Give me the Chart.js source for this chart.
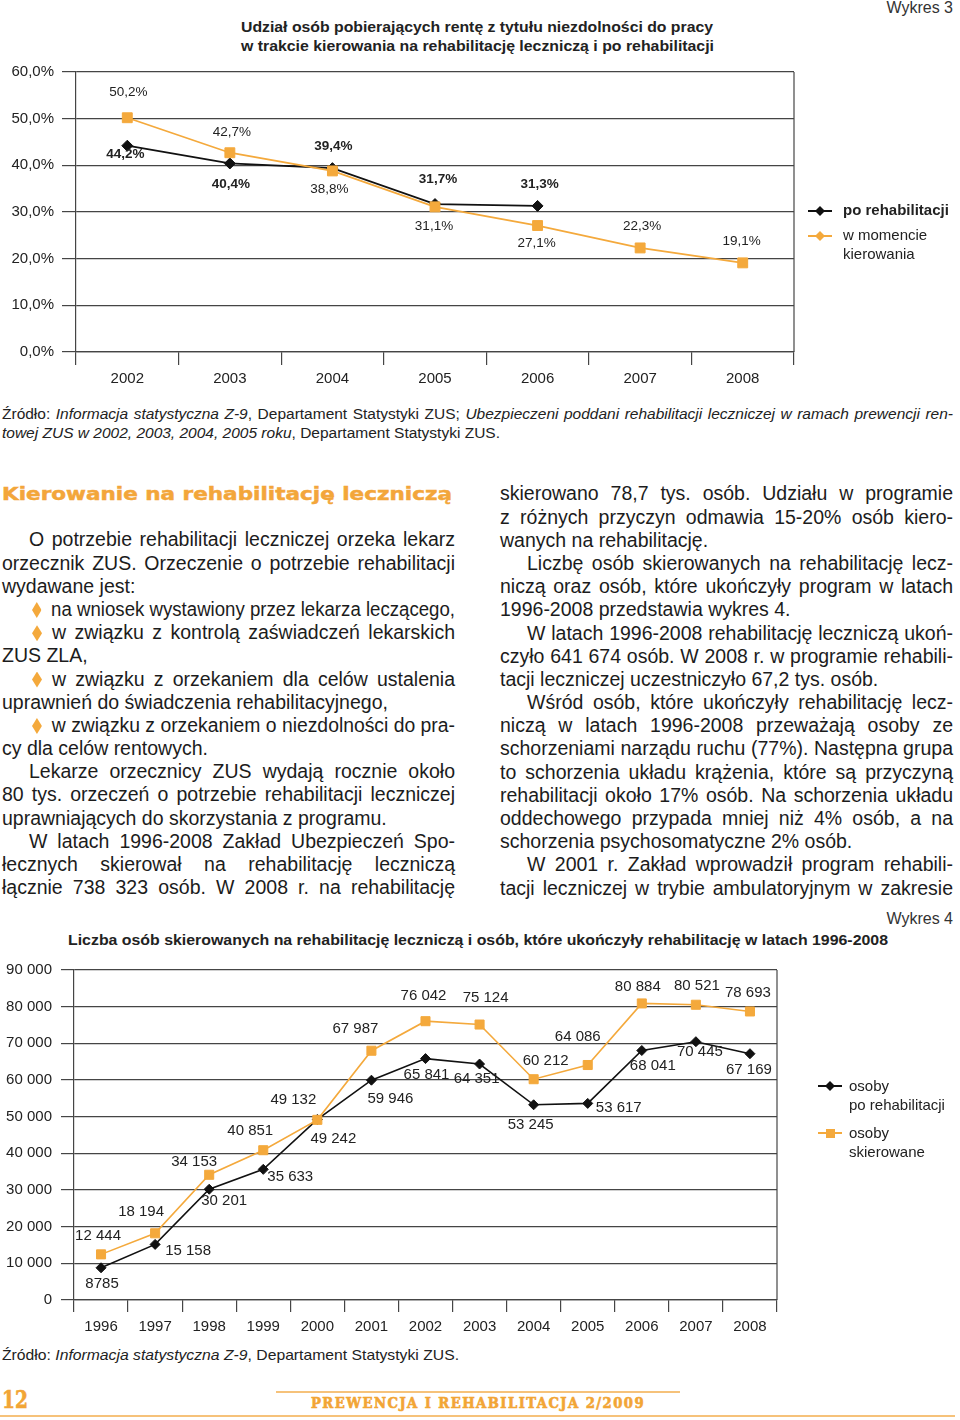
<!DOCTYPE html>
<html lang="pl">
<head>
<meta charset="utf-8">
<title>Wykres 3 i 4</title>
<script src="https://cdn.jsdelivr.net/npm/chart.js@4.4.1/dist/chart.umd.min.js"></script>
<style>
html, body { margin: 0; padding: 0; background: #fff; }
body { width: 960px; height: 1420px; position: relative; overflow: hidden;
  font-family: "Liberation Sans", Arial, sans-serif; color: #1c1c1c; }
.abs { position: absolute; white-space: nowrap; }
.fit { display: inline-block; transform-origin: 0 50%; }
.wyk { font-family: "Liberation Sans Narrow", "Liberation Sans", sans-serif; font-size: 16px; line-height: 18px; color: #333; }
.ttl { font-weight: bold; font-size: 15px; line-height: 19px; color: #222; }
.src { font-size: 15.5px; line-height: 19px; color: #222; }
.col { position: absolute; width: 453px; font-size: 19.5px; line-height: 23.2px; }
.ln { white-space: nowrap; height: 23.2px; }
.ln.jj { text-align: justify; text-align-last: justify; }
.ln.ind { padding-left: 27px; }
.ln.bul { padding-left: 30px; }
.b { display: inline-block; width: 10px; height: 16px; background: #f4a93c; margin-right: 10px;
  clip-path: polygon(50% 0, 100% 50%, 50% 100%, 0 50%); vertical-align: -2px; }
.head { font-family: "DejaVu Sans", sans-serif; font-weight: bold; font-size: 18px; color: #f3a63a;
  -webkit-text-stroke: 0.5px #f3a63a; }
canvas { position: absolute; left: 0; }
.leg { position: absolute; font-size: 15px; line-height: 18.5px; color: #222; }
.lline { position: absolute; height: 2px; width: 24px; }
.dia { position: absolute; width: 10px; height: 10px; clip-path: polygon(50% 0, 100% 50%, 50% 100%, 0 50%); }
.sq { position: absolute; width: 9px; height: 9px; }
.foot { font-family: "DejaVu Serif", serif; font-weight: bold; color: #f2a535; -webkit-text-stroke: 0.6px #f2a535; }
.oline { position: absolute; height: 1.5px; background: #f6c27a; }
</style>
</head>
<body>

<div class="abs wyk" style="right:7px; top:-1px;">Wykres 3</div>
<div class="abs ttl" style="left:241px; top:17px;"><span class="fit" data-w="472">Udział osób pobierających rentę z tytułu niezdolności do pracy</span></div>
<div class="abs ttl" style="left:241px; top:36px;"><span class="fit" data-w="473">w trakcie kierowania na rehabilitację leczniczą i po rehabilitacji</span></div>

<canvas id="c3" width="960" height="345" style="top:55px;"></canvas>

<div class="lline" style="left:808px; top:210px; background:#111;"></div>
<div class="dia" style="left:815px; top:206px; background:#111;"></div>
<div class="leg" style="left:843px; top:201px; font-weight:bold;">po rehabilitacji</div>
<div class="lline" style="left:808px; top:235px; background:#f4a93c;"></div>
<div class="dia" style="left:815px; top:231px; background:#f4a93c;"></div>
<div class="leg" style="left:843px; top:226px;">w momencie<br>kierowania</div>

<div class="abs src" style="left:2px; top:403.5px; width:951px;">
  <div class="ln jj" style="height:19px;"><span class="t">Źródło: <i>Informacja statystyczna Z-9</i>, Departament Statystyki ZUS; <i>Ubezpieczeni poddani rehabilitacji leczniczej w ramach prewencji ren-</i></span></div>
  <div class="ln" style="height:19px;"><span class="t"><i>towej ZUS w 2002, 2003, 2004, 2005 roku</i>, Departament Statystyki ZUS.</span></div>
</div>

<div class="abs head" style="left:2px; top:483px; line-height:22px;"><span class="fit" data-w="450">Kierowanie na rehabilitację leczniczą</span></div>

<div class="col" style="left:2px; top:528.4px;">
  <div class="ln jj ind"><span class="t">O potrzebie rehabilitacji leczniczej orzeka lekarz</span></div>
  <div class="ln jj"><span class="t">orzecznik ZUS. Orzeczenie o potrzebie rehabilitacji</span></div>
  <div class="ln"><span class="t">wydawane jest:</span></div>
  <div class="ln jj bul"><span class="t"><span class="b"></span>na wniosek wystawiony przez lekarza leczącego,</span></div>
  <div class="ln jj bul"><span class="t"><span class="b"></span>w związku z kontrolą zaświadczeń lekarskich</span></div>
  <div class="ln"><span class="t">ZUS ZLA,</span></div>
  <div class="ln jj bul"><span class="t"><span class="b"></span>w związku z orzekaniem dla celów ustalenia</span></div>
  <div class="ln"><span class="t">uprawnień do świadczenia rehabilitacyjnego,</span></div>
  <div class="ln jj bul"><span class="t"><span class="b"></span>w związku z orzekaniem o niezdolności do pra-</span></div>
  <div class="ln"><span class="t">cy dla celów rentowych.</span></div>
  <div class="ln jj ind"><span class="t">Lekarze orzecznicy ZUS wydają rocznie około</span></div>
  <div class="ln jj"><span class="t">80 tys. orzeczeń o potrzebie rehabilitacji leczniczej</span></div>
  <div class="ln"><span class="t">uprawniających do skorzystania z programu.</span></div>
  <div class="ln jj ind"><span class="t">W latach 1996-2008 Zakład Ubezpieczeń Spo-</span></div>
  <div class="ln jj"><span class="t">łecznych skierował na rehabilitację leczniczą</span></div>
  <div class="ln jj"><span class="t">łącznie 738 323 osób. W 2008 r. na rehabilitację</span></div>
</div>

<div class="col" style="left:500px; top:482.4px;">
  <div class="ln jj"><span class="t">skierowano 78,7 tys. osób. Udziału w programie</span></div>
  <div class="ln jj"><span class="t">z różnych przyczyn odmawia 15-20% osób kiero-</span></div>
  <div class="ln"><span class="t">wanych na rehabilitację.</span></div>
  <div class="ln jj ind"><span class="t">Liczbę osób skierowanych na rehabilitację lecz-</span></div>
  <div class="ln jj"><span class="t">niczą oraz osób, które ukończyły program w latach</span></div>
  <div class="ln"><span class="t">1996-2008 przedstawia wykres 4.</span></div>
  <div class="ln jj ind"><span class="t">W latach 1996-2008 rehabilitację leczniczą ukoń-</span></div>
  <div class="ln jj"><span class="t">czyło 641 674 osób. W 2008 r. w programie rehabili-</span></div>
  <div class="ln"><span class="t">tacji leczniczej uczestniczyło 67,2 tys. osób.</span></div>
  <div class="ln jj ind"><span class="t">Wśród osób, które ukończyły rehabilitację lecz-</span></div>
  <div class="ln jj"><span class="t">niczą w latach 1996-2008 przeważają osoby ze</span></div>
  <div class="ln jj"><span class="t">schorzeniami narządu ruchu (77%). Następna grupa</span></div>
  <div class="ln jj"><span class="t">to schorzenia układu krążenia, które są przyczyną</span></div>
  <div class="ln jj"><span class="t">rehabilitacji około 17% osób. Na schorzenia układu</span></div>
  <div class="ln jj"><span class="t">oddechowego przypada mniej niż 4% osób, a na</span></div>
  <div class="ln"><span class="t">schorzenia psychosomatyczne 2% osób.</span></div>
  <div class="ln jj ind"><span class="t">W 2001 r. Zakład wprowadził program rehabili-</span></div>
  <div class="ln jj"><span class="t">tacji leczniczej w trybie ambulatoryjnym w zakresie</span></div>
</div>

<div class="abs wyk" style="right:7px; top:910px;">Wykres 4</div>
<div class="abs ttl" style="left:68px; top:929.5px;"><span class="fit" data-w="820">Liczba osób skierowanych na rehabilitację leczniczą i osób, które ukończyły rehabilitację w latach 1996-2008</span></div>

<canvas id="c4" width="960" height="393" style="top:952px;"></canvas>

<div class="lline" style="left:818px; top:1085px; background:#111;"></div>
<div class="dia" style="left:825px; top:1081px; background:#111;"></div>
<div class="leg" style="left:849px; top:1077px;">osoby<br>po rehabilitacji</div>
<div class="lline" style="left:818px; top:1132px; background:#f4a93c;"></div>
<div class="sq" style="left:825.5px; top:1128.5px; background:#f4a93c;"></div>
<div class="leg" style="left:849px; top:1124px;">osoby<br>skierowane</div>

<div class="abs src" style="left:2px; top:1344.5px; font-size:15px;"><span class="fit" data-w="457">Źródło: <i>Informacja statystyczna Z-9</i>, Departament Statystyki ZUS.</span></div>

<div class="oline" style="left:276px; top:1391px; width:404px;"></div>
<div class="oline" style="left:0; top:1415px; width:955px;"></div>
<div class="abs foot" style="left:2px; top:1386px; font-size:24px; line-height:28px;"><span class="fit" data-w="26">12</span></div>
<div class="abs foot" style="left:311px; top:1395px; font-size:14px; line-height:16px; letter-spacing:1.5px;"><span class="fit" data-w="334">PREWENCJA I REHABILITACJA 2/2009</span></div>

<script>
// WYKRES 3 - udział osób pobierających rentę (%)
const years3 = ['2002', '2003', '2004', '2005', '2006', '2007', '2008'];
const poRehab3 = [44.2, 40.4, 39.4, 31.7, 31.3, null, null];
const wMomencie3 = [50.2, 42.7, 38.8, 31.1, 27.1, 22.3, 19.1];
const ticks3 = [0, 10, 20, 30, 40, 50, 60];

// WYKRES 4 - liczba osób, 1996-2008
const years4 = ['1996', '1997', '1998', '1999', '2000', '2001', '2002', '2003', '2004', '2005', '2006', '2007', '2008'];
const poRehab4 = [8785, 15158, 30201, 35633, 49242, 59946, 65841, 64351, 53245, 53617, 68041, 70445, 67169];
const skierowane4 = [12444, 18194, 34153, 40851, 49132, 67987, 76042, 75124, 60212, 64086, 80884, 80521, 78693];
const ticks4 = [0, 10000, 20000, 30000, 40000, 50000, 60000, 70000, 80000, 90000];

const ORANGE = '#f4a93c';
const BLACK = '#111';
const GRID = '#454545';

Chart.defaults.font.family = "'Liberation Sans', Arial, sans-serif";
Chart.defaults.color = '#222';

const pct = v => v.toFixed(1).replace('.', ',') + '%';
const num = v => v >= 10000 ? String(v).replace(/\B(?=(\d{3})+(?!\d))/g, ' ') : String(v);

// right edge of the plot frame
const frame = {
  id: 'frame',
  afterDraw(chart) {
    const { ctx, chartArea: a } = chart;
    ctx.save();
    ctx.strokeStyle = GRID;
    ctx.lineWidth = 1.2;
    ctx.beginPath();
    ctx.moveTo(a.right, a.top);
    ctx.lineTo(a.right, a.bottom);
    ctx.stroke();
    ctx.restore();
  }
};

// value labels next to each point, offsets kept per dataset
const valueLabels = {
  id: 'valueLabels',
  afterDatasetsDraw(chart, args, opts) {
    const ctx = chart.ctx;
    ctx.save();
    ctx.textAlign = 'center';
    ctx.textBaseline = 'middle';
    ctx.fillStyle = '#222';
    chart.data.datasets.forEach((ds, i) => {
      const meta = chart.getDatasetMeta(i);
      ctx.font = (ds.labelBold ? 'bold ' : '') + opts.size + "px 'Liberation Sans', Arial, sans-serif";
      meta.data.forEach((pt, j) => {
        const v = ds.data[j];
        if (v === null || v === undefined) return;
        const off = ds.labelOffsets[j] || [0, 0];
        ctx.fillText(opts.format(v), pt.x + off[0], pt.y + off[1]);
      });
    });
    ctx.restore();
  }
};

new Chart(document.getElementById('c3'), {
  type: 'line',
  data: {
    labels: years3,
    datasets: [
      {
        label: 'po rehabilitacji', data: poRehab3, order: 2,
        borderColor: BLACK, backgroundColor: BLACK, borderWidth: 1.8,
        pointStyle: 'rectRot', pointRadius: 5.5, pointBorderWidth: 1,
        labelBold: true,
        labelOffsets: [[-2, 9], [1, 21], [1, -22], [3, -25], [2, -22]]
      },
      {
        label: 'w momencie kierowania', data: wMomencie3, order: 1,
        borderColor: ORANGE, backgroundColor: ORANGE, borderWidth: 1.8,
        pointStyle: 'rect', pointRadius: 7, pointBorderWidth: 1,
        labelOffsets: [[1, -25], [2, -20], [-3, 18], [-1, 19], [-1, 18], [2, -22], [-1, -22]]
      }
    ]
  },
  options: {
    responsive: false, animation: false,
    layout: { padding: { top: 0, right: 166, left: 0, bottom: 0 } },
    plugins: {
      legend: { display: false }, tooltip: { enabled: false },
      valueLabels: { size: 13.5, format: pct }
    },
    scales: {
      x: {
        offset: true,
        grid: { offset: true, drawOnChartArea: false, tickLength: 13, color: GRID, lineWidth: 1.2 },
        border: { color: GRID, width: 1.2 },
        ticks: { padding: 5, font: { size: 15 }, maxRotation: 0, autoSkip: false },
        afterFit: s => { s.height = 48; }
      },
      y: {
        min: 0, max: 60,
        afterBuildTicks: s => { s.ticks = ticks3.map(v => ({ value: v })); },
        ticks: { callback: v => pct(v), padding: 8, font: { size: 15 } },
        grid: { tickLength: 14, color: GRID, lineWidth: 1.2 },
        border: { color: GRID, width: 1.2 },
        afterFit: s => { s.width = 76; }
      }
    }
  },
  plugins: [frame, valueLabels]
});

new Chart(document.getElementById('c4'), {
  type: 'line',
  data: {
    labels: years4,
    datasets: [
      {
        label: 'osoby po rehabilitacji', data: poRehab4, order: 2,
        borderColor: BLACK, backgroundColor: BLACK, borderWidth: 1.6,
        pointStyle: 'rectRot', pointRadius: 5, pointBorderWidth: 1,
        labelOffsets: [[1, 16], [33, 6], [15, 12], [27, 8], [16, 19], [19, 19], [1, 16],
                       [-3, 15], [-3, 20], [31, 4], [11, 15], [4, 10], [-1, 16]]
      },
      {
        label: 'osoby skierowane', data: skierowane4, order: 1,
        borderColor: ORANGE, backgroundColor: ORANGE, borderWidth: 1.6,
        pointStyle: 'rect', pointRadius: 6.4, pointBorderWidth: 1,
        labelOffsets: [[-3, -19], [-14, -21], [-15, -13], [-13, -19], [-24, -20], [-16, -22], [-2, -25],
                       [6, -27], [12, -18], [-10, -28], [-4, -17], [1, -19], [-2, -19]]
      }
    ]
  },
  options: {
    responsive: false, animation: false,
    layout: { padding: { top: 0, right: 183, left: 0, bottom: 0 } },
    plugins: {
      legend: { display: false }, tooltip: { enabled: false },
      valueLabels: { size: 15, format: num }
    },
    scales: {
      x: {
        offset: true,
        grid: { offset: true, drawOnChartArea: false, tickLength: 12, color: GRID, lineWidth: 1.2 },
        border: { color: GRID, width: 1.2 },
        ticks: { padding: 6, font: { size: 15 }, maxRotation: 0, autoSkip: false },
        afterFit: s => { s.height = 45; }
      },
      y: {
        min: 0, max: 90000,
        afterBuildTicks: s => { s.ticks = ticks4.map(v => ({ value: v })); },
        ticks: { callback: v => num(v), padding: 9, font: { size: 15 } },
        grid: { tickLength: 13, color: GRID, lineWidth: 1.2 },
        border: { color: GRID, width: 1.2 },
        afterFit: s => { s.width = 74; }
      }
    }
  },
  plugins: [frame, valueLabels]
});

// TEXT FITTING
function fitText() {
  document.querySelectorAll('.fit').forEach(el => {
    const w = el.getBoundingClientRect().width;
    const target = +el.dataset.w;
    if (w > 0) el.style.transform = 'scaleX(' + (target / w) + ')';
  });
  document.querySelectorAll('.ln').forEach(ln => {
    const t = ln.querySelector('.t');
    const cs = getComputedStyle(ln);
    const avail = ln.clientWidth - parseFloat(cs.paddingLeft) - parseFloat(cs.paddingRight);
    const w = t.getBoundingClientRect().width;
    if (w > avail) {
      t.style.display = 'inline-block';
      t.style.transformOrigin = '0 50%';
      t.style.transform = 'scaleX(' + (avail / w) + ')';
      ln.classList.remove('jj');
    }
  });
}
if (document.fonts && document.fonts.ready) document.fonts.ready.then(fitText); else fitText();
</script>
</body>
</html>
